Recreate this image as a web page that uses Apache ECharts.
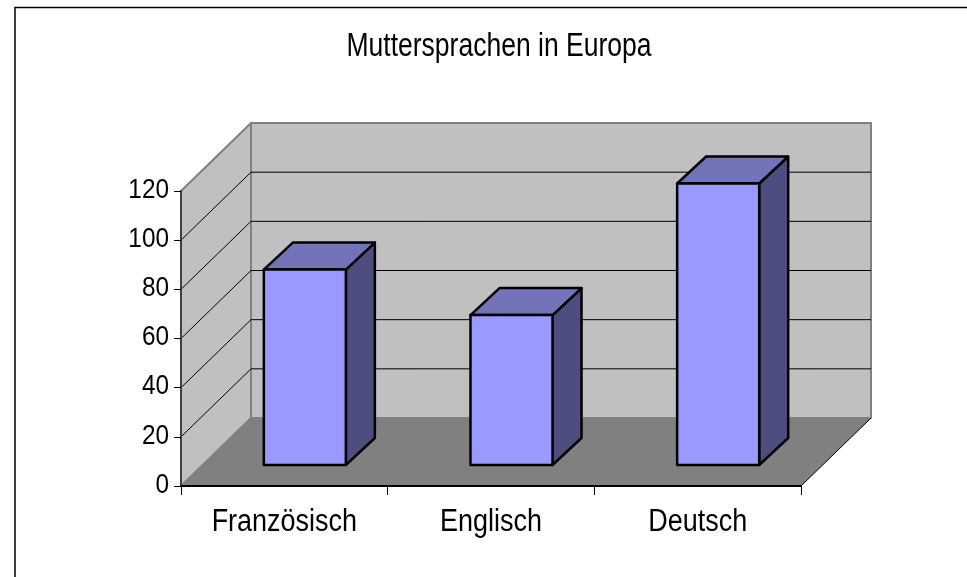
<!DOCTYPE html>
<html><head><meta charset="utf-8">
<style>html,body{margin:0;padding:0;background:#fff}#c{width:967px;height:577px}</style>
<script src="https://cdn.jsdelivr.net/npm/echarts@6/dist/echarts.min.js"></script>
</head><body><div id="c"></div>
<script>
const titleText = 'Muttersprachen in Europa';
const categories = ['Französisch', 'Englisch', 'Deutsch'];
const values = [79.5, 61, 114.5];
const yTicks = [0, 20, 40, 60, 80, 100, 120];
const FONT = '"Liberation Sans",Arial,sans-serif';
const DX = 70, DY = -68, BAR_W = 0.397;
const BAR_DX = 29, BAR_DY = -27, INSET_X = 20.5, INSET_Y = -21;
const X_SQUEEZE = 0.87;

const chart = echarts.init(document.getElementById('c'), null, {renderer: 'canvas'});

function poly(points, fill, stroke, lw) {
  return {type: 'polygon', shape: {points}, style: {fill, stroke: stroke || 'none', lineWidth: lw || 0, lineJoin: 'round'}};
}
function line(a, b, stroke, lw) {
  return {type: 'line', shape: {x1: a[0], y1: a[1], x2: b[0], y2: b[1]}, style: {stroke, lineWidth: lw}};
}
function narrowText(text, x, y, align, size, sx) {
  return {type: 'text', x, y, scaleX: sx, scaleY: 1,
    style: {text, x: 0, y: 0, align, verticalAlign: 'middle', fill: '#000',
      font: size + 'px ' + FONT}};
}
function renderWalls(params, api) {
  const r = params.coordSys;
  const L = r.x, R = r.x + r.width, T = r.y, B = r.y + r.height;
  const c = [];
  c.push(poly([[L + DX, T + DY], [R + DX, T + DY], [R + DX, B + DY], [L + DX, B + DY]], '#c0c0c0', '#808080', 2));
  c.push(poly([[L, T], [L + DX, T + DY], [L + DX, B + DY], [L, B]], '#c0c0c0', '#808080', 2));
  c.push(poly([[L, B], [L + DX, B + DY], [R + DX, B + DY], [R, B]], '#808080'));
  yTicks.forEach(v => {
    if (v === 0 || v === yTicks[yTicks.length - 1]) return;
    const y = api.coord([0, v])[1];
    c.push(line([L, y], [L + DX, y + DY], '#000', 1));
    c.push(line([L + DX, y + DY], [R + DX, y + DY], '#000', 1));
  });
  c.push(line([R, B], [R + DX, B + DY], '#000', 1));
  return {type: 'group', children: c};
}
function renderBar(params, api) {
  const i = api.value(0), v = api.value(1);
  const bw = api.size([1, 0])[0];
  const c = api.coord([i, v]), z = api.coord([i, 0]);
  const w = bw * BAR_W;
  const x0 = c[0] - w / 2 + INSET_X, x1 = x0 + w;
  const yT = c[1] + INSET_Y, yB = z[1] + INSET_Y;
  const st = 2.5;
  return {type: 'group', children: [
    poly([[x1, yT], [x1 + BAR_DX, yT + BAR_DY], [x1 + BAR_DX, yB + BAR_DY], [x1, yB]], '#4d4d80', '#000', st),
    poly([[x0, yT], [x0 + BAR_DX, yT + BAR_DY], [x1 + BAR_DX, yT + BAR_DY], [x1, yT]], '#7373b9', '#000', st),
    poly([[x0, yT], [x1, yT], [x1, yB], [x0, yB]], '#9999ff', '#000', st)
  ]};
}
function renderXLabel(params, api) {
  const p = api.coord([api.value(0), 0]);
  return narrowText(categories[api.value(0)], p[0], p[1] + 36, 'center', 31, X_SQUEEZE);
}
function renderYLabel(params, api) {
  const p = api.coord([0, api.value(0)]);
  return narrowText(String(api.value(0)), params.coordSys.x - 12, p[1] - 1, 'right', 28, X_SQUEEZE);
}
chart.setOption({
  animation: false,
  backgroundColor: '#fff',
  grid: {left: 181, top: 191, width: 620, height: 295},
  graphic: [
    {type: 'polyline', silent: true, shape: {points: [[15, 577], [15, 7.5], [967, 7.5]]},
      style: {fill: 'none', stroke: '#000', lineWidth: 1.5}},
    {type: 'text', silent: true, x: 499, y: 47, scaleX: 0.78,
      style: {text: titleText, x: 0, y: 0, align: 'center', verticalAlign: 'middle', fill: '#000', font: '34px ' + FONT}}
  ],
  xAxis: {type: 'category', data: categories, z: 5,
    axisLine: {show: true, onZero: false, lineStyle: {color: '#000', width: 2}},
    axisTick: {show: true, length: 9, alignWithLabel: false, lineStyle: {color: '#000', width: 1}},
    axisLabel: {show: false}},
  yAxis: {type: 'value', min: 0, max: 120, interval: 20, z: 5,
    axisLine: {show: true, lineStyle: {color: '#404040', width: 2}},
    axisTick: {show: true, length: 7, lineStyle: {color: '#000', width: 1}},
    splitLine: {show: false}, axisLabel: {show: false}},
  series: [
    {type: 'custom', coordinateSystem: 'cartesian2d', silent: true, z: 1,
      renderItem: renderWalls, data: [[0, 0]]},
    {type: 'custom', coordinateSystem: 'cartesian2d', silent: true, z: 3,
      renderItem: renderBar, encode: {x: 0, y: 1},
      data: values.map((v, i) => [i, v])},
    {type: 'custom', coordinateSystem: 'cartesian2d', silent: true, z: 6, clip: false,
      renderItem: renderXLabel, data: categories.map((c, i) => [i])},
    {type: 'custom', coordinateSystem: 'cartesian2d', silent: true, z: 6, clip: false,
      renderItem: renderYLabel, encode: {y: 0}, data: yTicks.map(v => [v])}
  ]
});
</script></body></html>
